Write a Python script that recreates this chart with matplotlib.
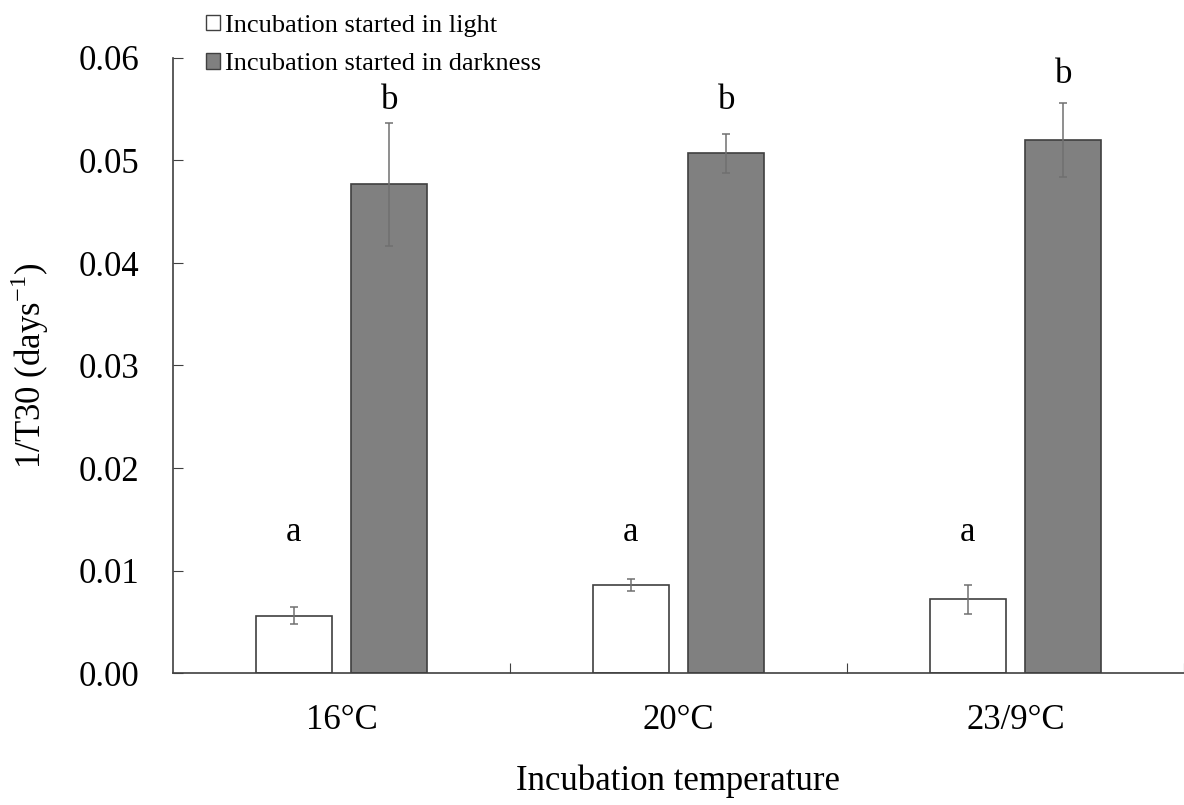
import matplotlib
matplotlib.use("Agg")
import matplotlib.pyplot as plt
from matplotlib.patches import Patch
import numpy as np

plt.rcParams['font.family'] = ['Liberation Serif', 'DejaVu Serif']
plt.rcParams['mathtext.fontset'] = 'custom'
plt.rcParams['mathtext.rm'] = 'Liberation Serif'

# data
temps = ["16\u00b0C", "20\u00b0C", "23/9\u00b0C"]
light = [0.0056, 0.0086, 0.0072]
light_err = [0.0008, 0.0006, 0.0014]
dark = [0.0477, 0.0507, 0.0520]
dark_err = [0.0060, 0.0019, 0.0036]
letters_light = ["a", "a", "a"]
letters_dark = ["b", "b", "b"]
letter_y_light = [0.0137, 0.0137, 0.0137]
letter_y_dark = [0.0559, 0.0559, 0.0584]
yticks = [0.00, 0.01, 0.02, 0.03, 0.04, 0.05, 0.06]

fig = plt.figure(figsize=(11.84, 8.05), dpi=100)
ax = fig.add_axes([173/1184, 132/805, 1011/1184, 615/805])

x = np.arange(len(temps)) + 0.5
w = 0.225
off = 0.142
edge = "#404040"
fs = 25
ax.bar(x - off, light, w, color="white", edgecolor=edge, linewidth=1.2)
ax.bar(x + off, dark, w, color="#808080", edgecolor=edge, linewidth=1.2)
ax.errorbar(x - off, light, yerr=light_err, fmt="none", ecolor="#707070",
            elinewidth=1.1, capsize=3, capthick=1.1)
ax.errorbar(x + off, dark, yerr=dark_err, fmt="none", ecolor="#707070",
            elinewidth=1.1, capsize=3, capthick=1.1)

for i in range(len(temps)):
    ax.text(x[i] - off, letter_y_light[i], letters_light[i], ha="center", va="center", fontsize=fs)
    ax.text(x[i] + off, letter_y_dark[i], letters_dark[i], ha="center", va="center", fontsize=fs)

ax.set_xlim(0, 3)
ax.set_ylim(0, 0.06)
ax.set_yticks(yticks)
ax.set_yticklabels(["%.2f" % v for v in yticks], fontsize=fs)
ax.set_xticks([1, 2, 3])
ax.set_xticklabels([])
ax.set_xticks(x, minor=True)
ax.set_xticklabels(temps, minor=True, fontsize=fs)
ax.tick_params(axis="x", which="major", direction="in", length=7, color=edge)
ax.tick_params(axis="x", which="minor", length=0, pad=22)
ax.tick_params(axis="y", direction="in", length=7, color=edge, pad=24)
for s in ["top", "right"]:
    ax.spines[s].set_visible(False)
for s in ["left", "bottom"]:
    ax.spines[s].set_color(edge)
    ax.spines[s].set_linewidth(1.2)

ax.set_xlabel("Incubation temperature", fontsize=fs, labelpad=20)
ax.set_ylabel("1/T30 (days$^{\\mathrm{-1}}$)", fontsize=fs, labelpad=20)

handles = [Patch(facecolor="white", edgecolor=edge), Patch(facecolor="#808080", edgecolor=edge)]
fig.legend(handles, ["Incubation started in light", "Incubation started in darkness"],
           loc="upper left", bbox_to_anchor=(191/1184, 1.0), frameon=False, fontsize=19,
           handlelength=0.55, handleheight=0.55, handletextpad=0.2, labelspacing=0.6,
           borderpad=0.05)

fig.savefig("out.png", dpi=100)
